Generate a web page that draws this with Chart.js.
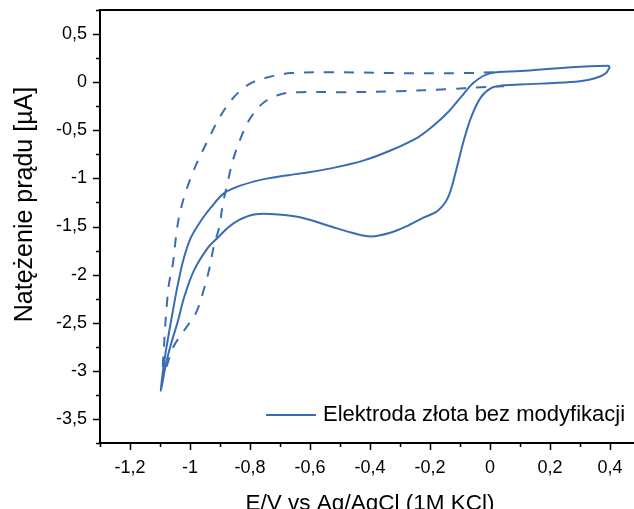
<!DOCTYPE html>
<html>
<head>
<meta charset="utf-8">
<script src="https://cdn.jsdelivr.net/npm/chart.js@4.4.1/dist/chart.umd.min.js"></script>
<style>
  html, body { margin: 0; padding: 0; background: #fff; overflow: hidden; }
  #wrap { width: 640px; height: 530px; }
</style>
</head>
<body>
<div id="wrap"><canvas id="cv"></canvas></div>
<script>
/* ── data ──────────────────────────────────────────────────── */
const xRange = [-1.3, 0.5];
const yRange = [-3.75, 0.75];

// solid loop: lower branch right -> left, then upper branch left -> right
const solidE = [0.400, 0.385, 0.350, 0.300, 0.200, 0.100, 0.040, 0.005, -0.030, -0.063, -0.090, -0.113, -0.140, -0.173,
  -0.220, -0.273, -0.330, -0.397, -0.463, -0.530, -0.630, -0.707, -0.787, -0.840, -0.873, -0.907, -0.940, -0.987,
  -1.020, -1.040, -1.063, -1.080, -1.097,
  -1.087, -1.073, -1.057, -1.040, -1.020, -0.997, -0.963, -0.930, -0.887, -0.830, -0.740, -0.630, -0.530, -0.420,
  -0.330, -0.240, -0.187, -0.140, -0.097, -0.053, 0.003, 0.103, 0.270, 0.393, 0.400];
const solidI = [0.160, 0.090, 0.040, 0.010, -0.010, -0.025, -0.035, -0.060, -0.156, -0.365, -0.635, -0.917, -1.198, -1.333,
  -1.406, -1.490, -1.563, -1.604, -1.563, -1.500, -1.406, -1.375, -1.375, -1.438, -1.510, -1.615, -1.719, -1.958,
  -2.240, -2.479, -2.719, -2.927, -3.208,
  -2.927, -2.656, -2.375, -2.094, -1.823, -1.615, -1.438, -1.302, -1.156, -1.073, -1.000, -0.948, -0.896, -0.813,
  -0.708, -0.573, -0.448, -0.313, -0.156, 0.000, 0.094, 0.115, 0.156, 0.170, 0.160];

// dashed loop: outer branch right -> left, inner branch left -> right
const dashedE = [0.013, -0.087, -0.307, -0.530, -0.663, -0.740, -0.803, -0.857, -0.903, -0.937, -0.970, -0.997,
  -1.020, -1.037, -1.047, -1.057, -1.070, -1.077, -1.083, -1.087, -1.090,
  -1.080, -1.057, -1.020, -0.980, -0.957, -0.937, -0.920, -0.903, -0.890, -0.873, -0.857, -0.830, -0.797,
  -0.753, -0.697, -0.630, -0.490, -0.307, -0.140, -0.030, 0.047];
const dashedI = [0.104, 0.094, 0.094, 0.104, 0.094, 0.052, -0.021, -0.167, -0.375, -0.583, -0.792, -0.990,
  -1.198, -1.406, -1.615, -1.885, -2.094, -2.302, -2.552, -2.760, -3.000,
  -2.969, -2.760, -2.583, -2.396, -2.188, -1.958, -1.698, -1.510, -1.260, -1.021, -0.813, -0.573, -0.365,
  -0.208, -0.125, -0.104, -0.104, -0.094, -0.073, -0.052, -0.042];

const legendLabel = "Elektroda złota bez modyfikacji";
const xTitle = "E/V vs Ag/AgCl (1M KCl)";
const yTitle = "Natężenie prądu [µA]";

/* ── style ─────────────────────────────────────────────────── */
const blue = "#3a6cb4";
const font = "'Liberation Sans', Arial, sans-serif";

const toPts = (xs, ys) => xs.map((v, i) => ({ x: v, y: ys[i] }));
const fmt = v => String(Math.round(v * 100) / 100).replace(".", ",");
const isMajorX = v => Math.round(v * 10) % 2 === 0;
const isMajorY = v => Math.round(v * 4) % 2 === 0;

// fixed axis boxes, no extra label padding around the plot
function fixBox(size) {
    return s => {
        if (s.isHorizontal()) s.height = size; else s.width = size;
        s.paddingTop = s.paddingBottom = s.paddingLeft = s.paddingRight = 0;
    };
}

/* ── minor/major tick marks, top frame, y title and legend ─── */
const axisDecor = {
    id: "axisDecor",
    afterDraw(chart) {
        const { ctx, chartArea: ca, scales: { x, y } } = chart;
        ctx.save();
        ctx.strokeStyle = "#000";
        ctx.lineWidth = 1.5;
        ctx.beginPath();
        x.ticks.forEach(t => {
            const px = Math.round(x.getPixelForValue(t.value)) + 0.5;
            ctx.moveTo(px, ca.bottom);
            ctx.lineTo(px, ca.bottom + (isMajorX(t.value) ? 7 : 4));
        });
        y.ticks.forEach(t => {
            const py = Math.round(y.getPixelForValue(t.value)) + 0.5;
            ctx.moveTo(ca.left, py);
            ctx.lineTo(ca.left - (isMajorY(t.value) ? 7 : 4), py);
        });
        ctx.stroke();

        // top frame
        ctx.lineWidth = 2;
        ctx.beginPath();
        ctx.moveTo(ca.left - 1, ca.top);
        ctx.lineTo(ca.right, ca.top);
        ctx.stroke();

        // y title
        ctx.save();
        ctx.translate(32, (ca.top + ca.bottom) / 2 - 22);
        ctx.rotate(-Math.PI / 2);
        ctx.fillStyle = "#000";
        ctx.font = "25px " + font;
        ctx.textAlign = "center";
        ctx.textBaseline = "alphabetic";
        ctx.fillText(yTitle, 0, 0);
        ctx.restore();

        // legend (solid series only)
        const ly = ca.bottom - 28;
        const lx = ca.left + 166;
        ctx.strokeStyle = blue;
        ctx.lineWidth = 2;
        ctx.beginPath();
        ctx.moveTo(lx, ly);
        ctx.lineTo(lx + 50, ly);
        ctx.stroke();
        ctx.fillStyle = "#000";
        ctx.font = "22px " + font;
        ctx.textBaseline = "middle";
        ctx.fillText(legendLabel, lx + 57, ly);
        ctx.restore();
    }
};

new Chart(document.getElementById("cv"), {
    type: "scatter",
    data: {
        datasets: [
            {
                label: legendLabel,
                data: toPts(solidE, solidI),
                showLine: true,
                borderColor: blue,
                borderWidth: 2,
                pointRadius: 0,
                tension: 0.35
            },
            {
                label: "dashed",
                data: toPts(dashedE, dashedI),
                showLine: true,
                borderColor: blue,
                borderWidth: 2,
                borderDash: [10, 10],
                pointRadius: 0,
                tension: 0.35
            }
        ]
    },
    options: {
        responsive: true,
        maintainAspectRatio: false,
        animation: false,
        layout: { padding: { top: 10, right: 0, left: 0, bottom: 0 } },
        plugins: { legend: { display: false }, tooltip: { enabled: false } },
        scales: {
            x: {
                type: "linear",
                min: xRange[0],
                max: xRange[1],
                afterFit: fixBox(87),
                grid: { display: false, drawTicks: false, tickLength: 0 },
                border: { display: true, color: "#000", width: 2 },
                ticks: {
                    stepSize: 0.1,
                    padding: 14,
                    maxRotation: 0,
                    autoSkip: false,
                    color: "#000",
                    font: { family: font, size: 18 },
                    callback: v => isMajorX(v) ? fmt(v) : ""
                },
                title: {
                    display: true,
                    text: xTitle,
                    color: "#000",
                    font: { family: font, size: 22.5 },
                    padding: { top: 0, bottom: 13 }
                }
            },
            y: {
                type: "linear",
                min: yRange[0],
                max: yRange[1],
                afterFit: fixBox(100),
                grid: { display: false, drawTicks: false, tickLength: 0 },
                border: { display: true, color: "#000", width: 2 },
                ticks: {
                    stepSize: 0.25,
                    padding: 13,
                    autoSkip: false,
                    color: "#000",
                    font: { family: font, size: 18 },
                    callback: v => isMajorY(v) ? fmt(v) : ""
                },
                title: { display: false }
            }
        }
    },
    plugins: [axisDecor]
});
</script>
</body>
</html>
